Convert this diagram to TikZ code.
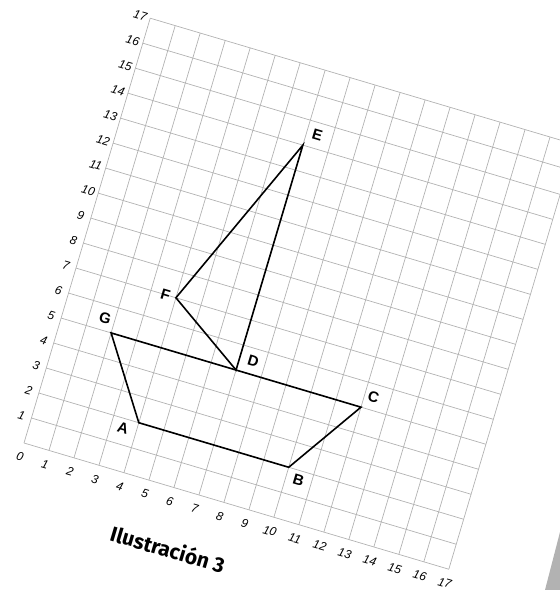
\documentclass[tikz,border=0pt]{standalone}
\usepackage{fontspec}
\setmainfont{Liberation Sans}
\newfontfamily\captionfont{Fira Sans}

\begin{document}
\begin{tikzpicture}[x=1pt, y=1pt,
	gridline/.style={black!30, line width=0.7pt},
	ship/.style={black, line width=1.6pt},
	ticklabel/.style={font=\fontsize{12}{14}\selectfont\itshape, rotate=-16.55, inner sep=0pt},
	ptlabel/.style={font=\fontsize{15}{17}\selectfont\bfseries, rotate=-16.55, inner sep=0pt}]
	
	% Frame
	\useasboundingbox (0,0) rectangle (560,590);
	\clip (0,0) rectangle (560,590);
	
	% Grey corner
	\fill[black!30] (560,58) -- (545,0) -- (560,0) -- cycle;
	
	\begin{scope}[shift={(24,147)}, rotate=-16.55, x=26.07pt, y=26.07pt]
		
		% Grid
		\foreach \i in {0,...,17} {
			\draw[gridline] (\i,0) -- (\i,17);
			\draw[gridline] (0,\i) -- (17,\i);
		}
		
		% Axis numbers
		\foreach \i in {0,...,17} {
			\node[ticklabel] (x\i) at (\i,-0.55) {\i};
		}
		\foreach \i in {1,...,17} {
			\node[ticklabel] (y\i) at (-0.4,\i) {\i};
		}
		
		% Points
		\coordinate (A) at (4,2);
		\coordinate (B) at (10,2);
		\coordinate (C) at (12,5);
		\coordinate (D) at (7,5);
		\coordinate (E) at (7,14);
		\coordinate (F) at (4,7);
		\coordinate (G) at (2,5);
		
		% Hull and sail
		\draw[ship] (G) -- (A) -- (B) -- (C) -- cycle;
		\draw[ship] (D) -- (E) -- (F) -- cycle;
		
		% Point names
		\node[ptlabel] (labA) at (3.48,1.64) {A};
		\node[ptlabel] (labB) at (10.5,1.64) {B};
		\node[ptlabel] (labC) at (12.35,5.52) {C};
		\node[ptlabel] (labD) at (7.54,5.52) {D};
		\node[ptlabel] (labE) at (7.42,14.54) {E};
		\node[ptlabel] (labF) at (3.58,6.99) {F};
		\node[ptlabel] (labG) at (1.62,5.48) {G};
		
		% Caption
		\node[font=\captionfont\fontsize{21}{25}\selectfont\bfseries, rotate=-16.55, inner sep=0pt] (caption) at (6.45,-2.32) {Ilustración 3};
	\end{scope}
\end{tikzpicture}
\end{document}
